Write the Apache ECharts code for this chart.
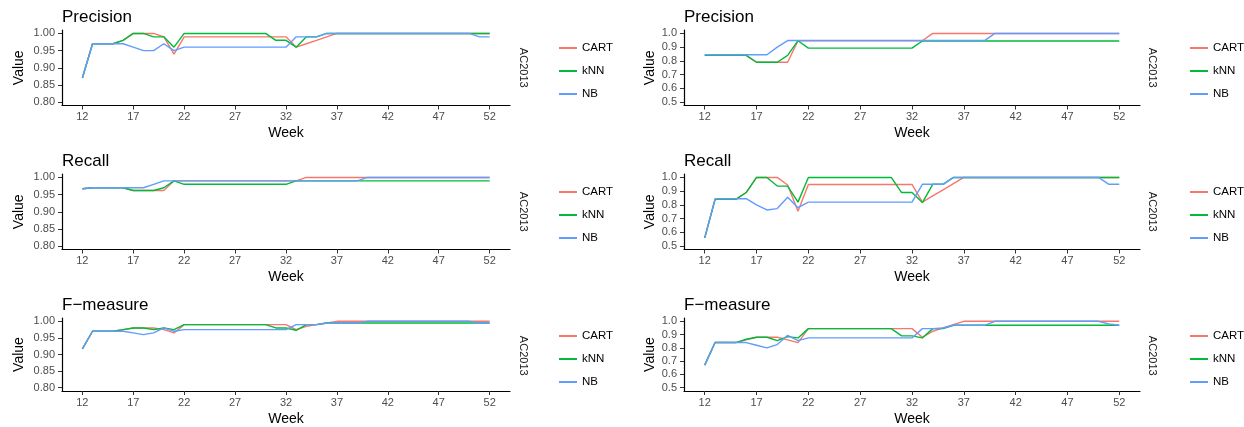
<!DOCTYPE html>
<html>
<head>
<meta charset="utf-8">
<script src="https://cdn.jsdelivr.net/npm/echarts@6/dist/echarts.min.js"></script>
<style>
  html, body { margin: 0; padding: 0; background: #fff; }
  #chart { width: 1244px; height: 427px; }
</style>
</head>
<body>
<div id="chart"></div>
<script>
// Weekly evaluation scores of three classifiers (CART, kNN, NB), two AC2013 runs side by side.
const weeks = [12,13,14,15,16,17,18,19,20,21,22,23,24,25,26,27,28,29,30,31,32,33,34,35,36,37,38,39,40,41,42,43,44,45,46,47,48,49,50,51,52];
const weekTicks = [12,17,22,27,32,37,42,47,52];
const leftTicks = [0.80,0.85,0.90,0.95,1.00];
const rightTicks = [0.5,0.6,0.7,0.8,0.9,1.0];
const metrics = ['Precision','Recall','F\u2212measure'];
const models = ['CART','kNN','NB'];
const stripLabel = 'AC2013';

// Left column
const precA_CART = [.87,.97,.97,.97,.98,1,1,1,.99,.94,.99,.99,.99,.99,.99,.99,.99,.99,.99,.99,.99,.96,.97,.98,.99,1,1,1,1,1,1,1,1,1,1,1,1,1,1,1,1];
const precA_kNN  = [.87,.97,.97,.97,.98,1,1,.99,.99,.96,1,1,1,1,1,1,1,1,1,.98,.98,.96,.99,.99,1,1,1,1,1,1,1,1,1,1,1,1,1,1,1,1,1];
const precA_NB   = [.87,.97,.97,.97,.97,.96,.95,.95,.97,.95,.96,.96,.96,.96,.96,.96,.96,.96,.96,.96,.96,.99,.99,.99,1,1,1,1,1,1,1,1,1,1,1,1,1,1,1,.99,.99];

const recA_CART = [.967,.97,.97,.97,.97,.962,.962,.962,.962,.99,.99,.99,.99,.99,.99,.99,.99,.99,.99,.99,.99,.99,1,1,1,1,1,1,1,1,1,1,1,1,1,1,1,1,1,1,1];
const recA_kNN  = [.967,.97,.97,.97,.97,.962,.962,.962,.97,.99,.98,.98,.98,.98,.98,.98,.98,.98,.98,.98,.98,.99,.99,.99,.99,.99,.99,.99,.99,.99,.99,.99,.99,.99,.99,.99,.99,.99,.99,.99,.99];
const recA_NB   = [.967,.97,.97,.97,.97,.97,.97,.98,.99,.99,.99,.99,.99,.99,.99,.99,.99,.99,.99,.99,.99,.99,.99,.99,.99,.99,.99,.99,1,1,1,1,1,1,1,1,1,1,1,1,1];

const fmA_CART = [.917,.97,.97,.97,.975,.98,.98,.98,.975,.965,.99,.99,.99,.99,.99,.99,.99,.99,.99,.99,.99,.975,.985,.99,.995,1,1,1,1,1,1,1,1,1,1,1,1,1,1,1,1];
const fmA_kNN  = [.917,.97,.97,.97,.975,.98,.98,.975,.98,.975,.99,.99,.99,.99,.99,.99,.99,.99,.99,.98,.98,.973,.99,.99,.995,.995,.995,.995,.995,.995,.995,.995,.995,.995,.995,.995,.995,.995,.995,.995,.995];
const fmA_NB   = [.917,.97,.97,.97,.97,.965,.96,.965,.98,.97,.975,.975,.975,.975,.975,.975,.975,.975,.975,.975,.975,.99,.99,.99,.995,.995,.995,.995,1,1,1,1,1,1,1,1,1,1,1,.995,.995];

// Right column
const precB_CART = [.84,.84,.84,.84,.84,.79,.79,.79,.79,.947,.947,.947,.947,.947,.947,.947,.947,.947,.947,.947,.947,.947,1,1,1,1,1,1,1,1,1,1,1,1,1,1,1,1,1,1,1];
const precB_kNN  = [.84,.84,.84,.84,.84,.79,.79,.79,.84,.947,.893,.893,.893,.893,.893,.893,.893,.893,.893,.893,.893,.945,.945,.945,.945,.945,.945,.945,.945,.945,.945,.945,.945,.945,.945,.945,.945,.945,.945,.945,.945];
const precB_NB   = [.845,.845,.845,.845,.845,.845,.845,.90,.948,.948,.948,.948,.948,.948,.948,.948,.948,.948,.948,.948,.948,.948,.948,.948,.948,.948,.948,.948,1,1,1,1,1,1,1,1,1,1,1,1,1];

const recB_CART = [.56,.84,.84,.84,.89,1,1,1,.945,.754,.949,.949,.949,.949,.949,.949,.949,.949,.949,.949,.949,.82,.865,.91,.955,1,1,1,1,1,1,1,1,1,1,1,1,1,1,1,1];
const recB_kNN  = [.56,.84,.84,.84,.89,1,1,.937,.937,.82,1,1,1,1,1,1,1,1,1,.89,.89,.817,.95,.95,1,1,1,1,1,1,1,1,1,1,1,1,1,1,1,1,1];
const recB_NB   = [.56,.845,.845,.845,.845,.80,.763,.773,.856,.78,.82,.82,.82,.82,.82,.82,.82,.82,.82,.82,.82,.95,.95,.95,1,1,1,1,1,1,1,1,1,1,1,1,1,1,1,.95,.95];

const fmB_CART = [.67,.84,.84,.84,.86,.88,.88,.88,.86,.84,.945,.945,.945,.945,.945,.945,.945,.945,.945,.945,.945,.88,.925,.95,.975,1,1,1,1,1,1,1,1,1,1,1,1,1,1,1,1];
const fmB_kNN  = [.67,.84,.84,.84,.865,.88,.88,.855,.885,.875,.945,.945,.945,.945,.945,.945,.945,.945,.945,.89,.89,.875,.945,.945,.97,.97,.97,.97,.97,.97,.97,.97,.97,.97,.97,.97,.97,.97,.97,.97,.97];
const fmB_NB   = [.67,.84,.84,.84,.84,.82,.80,.825,.895,.855,.875,.875,.875,.875,.875,.875,.875,.875,.875,.875,.875,.945,.945,.95,.97,.97,.97,.97,1,1,1,1,1,1,1,1,1,1,1,.98,.97];

const colors = { CART: '#F8766D', kNN: '#00BA38', NB: '#619CFF' };
const font = 'Liberation Sans, Arial, Helvetica, sans-serif';

// panels[row][col] -> values per model
const panels = [
  [{CART: precA_CART, kNN: precA_kNN, NB: precA_NB}, {CART: precB_CART, kNN: precB_kNN, NB: precB_NB}],
  [{CART: recA_CART,  kNN: recA_kNN,  NB: recA_NB},  {CART: recB_CART,  kNN: recB_kNN,  NB: recB_NB}],
  [{CART: fmA_CART,   kNN: fmA_kNN,   NB: fmA_NB},   {CART: fmB_CART,   kNN: fmB_kNN,   NB: fmB_NB}]
];

// layout of the 3x2 facet grid
const rowTop = [30, 174, 318];
const panelH = 75.5;
const colLeft = [62, 684];
const colWidth = [448, 456];
const yRange = [[0.79, 1.01], [0.475, 1.025]];
const yTicks = [leftTicks, rightTicks];
const yDigits = [2, 1];
const yNameGap = [36, 27];
const stripX = [523, 1152];
const legendX = [559, 1190];

const grid = [], xAxis = [], yAxis = [], series = [], title = [], legend = [], graphic = [];

for (let r = 0; r < 3; r++) {
  for (let c = 0; c < 2; c++) {
    const idx = grid.length;
    grid.push({ left: colLeft[c], top: rowTop[r], width: colWidth[c], height: panelH, containLabel: false });
    xAxis.push({
      type: 'value', gridIndex: idx, min: 10, max: 54,
      name: 'Week', nameLocation: 'middle', nameGap: 21,
      nameTextStyle: { fontFamily: font, fontSize: 14, color: '#000' },
      axisLine: { show: true, lineStyle: { color: '#000', width: 1.2 } },
      axisTick: { show: true, length: 4, lineStyle: { color: '#333', width: 1 }, customValues: weekTicks },
      axisLabel: { fontFamily: font, fontSize: 11, color: '#4D4D4D', margin: 6, customValues: weekTicks },
      splitLine: { show: false }
    });
    yAxis.push({
      type: 'value', gridIndex: idx, min: yRange[c][0], max: yRange[c][1],
      name: 'Value', nameLocation: 'middle', nameGap: yNameGap[c], nameRotate: 90,
      nameTextStyle: { fontFamily: font, fontSize: 14, color: '#000' },
      axisLine: { show: true, lineStyle: { color: '#000', width: 1.2 } },
      axisTick: { show: true, length: 4, lineStyle: { color: '#333', width: 1 }, customValues: yTicks[c] },
      axisLabel: {
        fontFamily: font, fontSize: 11, color: '#4D4D4D', margin: 7, customValues: yTicks[c],
        formatter: (v) => v.toFixed(yDigits[c])
      },
      splitLine: { show: false }
    });
    models.forEach((m) => {
      series.push({
        type: 'line', name: m, xAxisIndex: idx, yAxisIndex: idx,
        data: weeks.map((w, i) => [w, panels[r][c][m][i]]),
        symbol: 'none', showSymbol: false, silent: true, animation: false,
        lineStyle: { color: colors[m], width: 1.4 }, itemStyle: { color: colors[m] }
      });
    });
    title.push({
      text: metrics[r], left: colLeft[c] - 5, top: rowTop[r] - 26,
      textStyle: { fontFamily: font, fontSize: 17, fontWeight: 'normal', color: '#000' }
    });
    legend.push({
      data: models, orient: 'vertical', left: legendX[c], top: rowTop[r] + 12,
      padding: 0, icon: 'rect', itemWidth: 18, itemHeight: 2, itemGap: 11,
      textStyle: { fontFamily: font, fontSize: 11.5, color: '#000' },
      selectedMode: false
    });
    graphic.push({
      type: 'text', x: stripX[c], y: rowTop[r] + panelH / 2, rotation: -Math.PI / 2,
      style: { text: stripLabel, fontFamily: font, fontSize: 11, fill: '#1A1A1A', align: 'center', verticalAlign: 'middle' }
    });
  }
}

const chart = echarts.init(document.getElementById('chart'), null, { renderer: 'canvas' });
chart.setOption({
  backgroundColor: '#fff', animation: false,
  grid, xAxis, yAxis, series, title, legend, graphic
});
</script>
</body>
</html>
